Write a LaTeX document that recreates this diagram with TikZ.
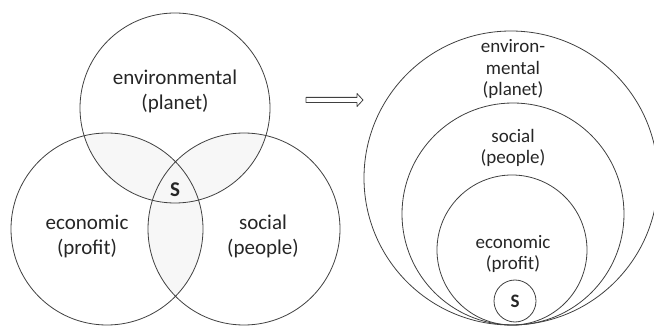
\documentclass[tikz,border=0pt]{standalone}
\usepackage{fontspec}
\setmainfont{Carlito}
\usetikzlibrary{arrows.meta}
\begin{document}
\begin{tikzpicture}[x=1pt,y=-1pt,
  ring/.style={circle, draw=black!75, line width=0.8pt, inner sep=0pt},
  bigtxt/.style={align=center, font=\fontsize{21}{25}\selectfont, text=black!85},
  smalltxt/.style={align=center, font=\fontsize{19}{21.5}\selectfont, text=black!85},
  overlap/.style={fill=black!3},
  fatarrow/.style={draw=black!75, line width=0.8pt, line join=round},
]
\useasboundingbox (0,0) rectangle (654,326);
\clip (0,0) rectangle (654,326);
% shaded overlaps
\begin{scope}
 \clip (175,108) circle (95pt);
 \fill[overlap] (107,229) circle (96pt);
 \fill[overlap] (244,229) circle (96pt);
\end{scope}
\begin{scope}
 \clip (107,229) circle (96pt);
 \fill[overlap] (244,229) circle (96pt);
\end{scope}
% Venn circles
\node[ring, minimum size=190pt] (envC) at (175,108) {};
\node[ring, minimum size=192pt] (ecoC) at (107,229) {};
\node[ring, minimum size=192pt] (socC) at (244,229) {};
\node[bigtxt] (envL) at (175,91) {environmental\\(planet)};
\node[bigtxt, font=\fontsize{21}{25}\selectfont\bfseries] (sL) at (175,190) {S};
\node[bigtxt] (ecoL) at (87,236) {economic\\(profit)};
\node[bigtxt] (socL) at (263,236) {social\\(people)};
% arrow (outlined double arrow)
\coordinate (a1) at (306,100);
\coordinate (a2) at (363,100);
\draw[fatarrow] ([yshift=-2.6pt]a1) -- ([xshift=-6pt,yshift=-2.6pt]a2) -- ([xshift=-6pt,yshift=-6.5pt]a2)
  -- (a2) -- ([xshift=-6pt,yshift=6.5pt]a2) -- ([xshift=-6pt,yshift=2.6pt]a2) -- ([yshift=2.6pt]a1) -- cycle;
% nested circles
\node[ring, minimum size=294pt] (envR) at (511,178) {};
\node[ring, minimum size=222pt] (socR) at (513,214) {};
\node[ring, minimum size=150pt] (ecoR) at (512,250) {};
\node[ring, minimum size=42pt, font=\fontsize{19}{21}\selectfont\bfseries, text=black!85] (sR) at (515,301) {S};
\node[smalltxt] (envT) at (513,69) {environ-\\mental\\(planet)};
\node[smalltxt] (socT) at (513,148) {social\\(people)};
\node[smalltxt] (ecoT) at (513,254) {economic\\(profit)};
\end{tikzpicture}
\end{document}
